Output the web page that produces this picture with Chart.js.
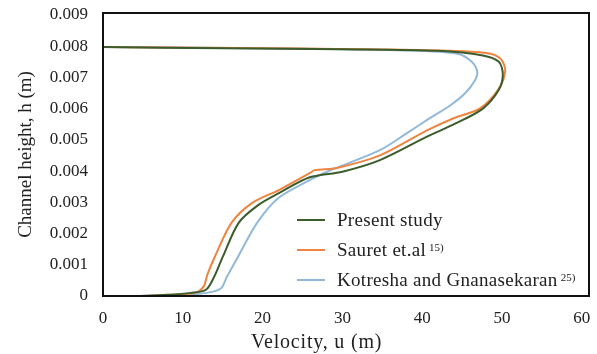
<!DOCTYPE html>
<html>
<head>
<meta charset="utf-8">
<script src="https://cdn.jsdelivr.net/npm/chart.js@4/dist/chart.umd.min.js"></script>
<style>
  body { margin: 0; background: #fff; }
  #wrap { position: relative; width: 597px; height: 354px; font-family: 'Liberation Serif', serif; color: #222; }
  #x-title { position: absolute; left: 251px; top: 330px; font-size: 20px; letter-spacing: 0.8px; white-space: nowrap; }
  .legend { position: absolute; left: 297px; top: 205px; font-size: 19px; letter-spacing: 0.3px; }
  .legend-row { display: flex; align-items: center; height: 30px; white-space: nowrap; }
  .legend-line { width: 28px; height: 2px; margin-right: 12px; }
  .legend sup { font-size: 11px; position: relative; top: -3px; margin-left: 3px; letter-spacing: 0; }
</style>
</head>
<body>
<div id="wrap">
  <canvas id="velocity-chart"></canvas>
  <div id="x-title">Velocity, u (m)</div>
  <div class="legend">
    <div class="legend-row"><span class="legend-line" style="background:#3b5c2c"></span>Present study</div>
    <div class="legend-row"><span class="legend-line" style="background:#ee8440"></span>Sauret et.al<sup>15)</sup></div>
    <div class="legend-row"><span class="legend-line" style="background:#92b9da"></span>Kotresha and Gnanasekaran<sup>25)</sup></div>
  </div>
</div>
<script>
// velocity u, channel height h  (traced bottom -> nose -> top)
const presentU = [4, 8, 11, 12.9, 13.9, 15.0, 17.0, 19.4, 22.1, 25.9, 30, 34.7, 40.6, 44, 47.6, 49.6, 50.1, 49.6, 47.6, 42, 30, 15, 0];
const presentH = [0, 0.00004, 0.0001, 0.0002, 0.0006, 0.00125, 0.00234, 0.0029, 0.0033, 0.0038, 0.00398, 0.00435, 0.0051, 0.0055, 0.006, 0.0066, 0.0071, 0.0075, 0.0077, 0.00785, 0.0079, 0.00793, 0.00797];

const sauretU = [5, 9, 11.5, 12.6, 13.1, 14.0, 16.1, 18.7, 22.1, 25.9, 26.5, 29.3, 34.7, 40.6, 44, 47.2, 49.5, 50.4, 49.8, 48, 40, 25, 0];
const sauretH = [0, 0.00004, 0.0001, 0.0003, 0.0007, 0.00125, 0.00234, 0.00298, 0.0034, 0.00393, 0.00403, 0.0041, 0.0045, 0.0053, 0.0057, 0.006, 0.0066, 0.0072, 0.0076, 0.00778, 0.00787, 0.00792, 0.00797];

const kotreshaU = [6, 10, 13, 14.8, 15.5, 16.9, 19.3, 21.8, 24.7, 28, 34.7, 38, 41, 43.5, 45.4, 46.6, 46.9, 46.2, 44.5, 38, 20, 0];
const kotreshaH = [0, 0.00003, 0.0001, 0.00025, 0.0006, 0.00125, 0.00234, 0.0031, 0.00355, 0.00397, 0.00467, 0.0052, 0.0057, 0.0061, 0.0065, 0.0069, 0.00718, 0.0075, 0.00775, 0.00786, 0.00793, 0.00797];

const xTicks = [0, 10, 20, 30, 40, 50, 60];
const yTicks = [0, 0.001, 0.002, 0.003, 0.004, 0.005, 0.006, 0.007, 0.008, 0.009];

function pairs(us, hs) {
  return us.map((u, i) => ({ x: u, y: hs[i] }));
}

function series(label, us, hs, color) {
  return {
    label: label,
    data: pairs(us, hs),
    showLine: true,
    borderColor: color,
    backgroundColor: color,
    borderWidth: 2,
    pointRadius: 0,
    tension: 0.3,
    fill: false
  };
}

// black frame round the plot area
const frame = {
  id: 'frame',
  afterDraw(chart) {
    const a = chart.chartArea;
    const ctx = chart.ctx;
    ctx.save();
    ctx.strokeStyle = '#111';
    ctx.lineWidth = 2;
    ctx.strokeRect(a.left, a.top, a.right - a.left, a.bottom - a.top);
    ctx.restore();
  }
};

const tickFont = { family: 'Liberation Serif', size: 17 };

new Chart(document.getElementById('velocity-chart'), {
  type: 'scatter',
  data: {
    datasets: [
      series('Present study', presentU, presentH, '#3b5c2c'),
      series('Sauret et.al', sauretU, sauretH, '#ee8440'),
      series('Kotresha and Gnanasekaran', kotreshaU, kotreshaH, '#92b9da')
    ]
  },
  plugins: [frame],
  options: {
    responsive: true,
    maintainAspectRatio: false,
    animation: false,
    layout: { padding: { top: 13, right: 8, left: 0, bottom: 0 } },
    plugins: {
      legend: { display: false },
      tooltip: { enabled: false }
    },
    scales: {
      x: {
        type: 'linear',
        min: 0,
        max: 60.9,
        afterBuildTicks: axis => { axis.ticks = xTicks.map(v => ({ value: v })); },
        afterFit: axis => {
          axis.height = 58;
          axis.paddingLeft = 0;
          axis.paddingRight = 0;
        },
        grid: { display: false, drawTicks: false },
        border: { display: false },
        ticks: { color: '#222', font: tickFont, padding: 12, maxRotation: 0 }
      },
      y: {
        min: 0,
        max: 0.00906,
        afterBuildTicks: axis => { axis.ticks = yTicks.map(v => ({ value: v })); },
        afterFit: axis => {
          axis.width = 103;
          axis.paddingTop = 0;
          axis.paddingBottom = 0;
        },
        grid: { display: false, drawTicks: false },
        border: { display: false },
        ticks: {
          color: '#222',
          font: tickFont,
          padding: 15,
          callback: v => v === 0 ? '0' : v.toFixed(3)
        },
        title: {
          display: true,
          text: 'Channel height, h (m)',
          color: '#222',
          font: { family: 'Liberation Serif', size: 19 },
          padding: { top: 15, bottom: 0 }
        }
      }
    }
  }
});
</script>
</body>
</html>
